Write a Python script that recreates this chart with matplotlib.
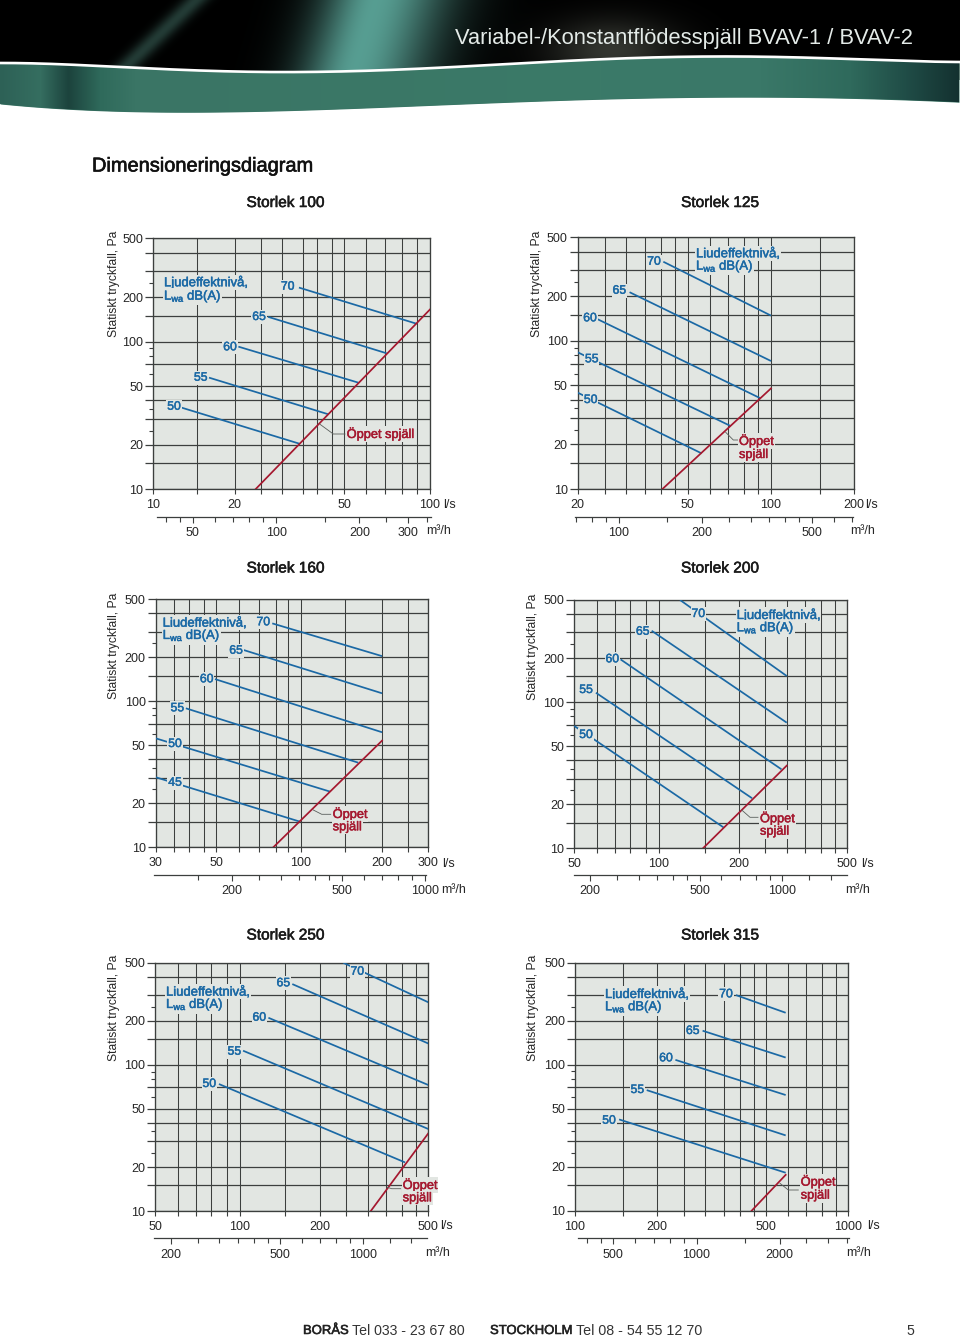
import matplotlib

matplotlib.use("Agg")
import matplotlib.patheffects as pe
import matplotlib.pyplot as plt
import numpy as np
from matplotlib.colors import to_rgb
from matplotlib.lines import Line2D
from matplotlib.ticker import NullFormatter

plt.rcParams["font.family"] = ["Liberation Sans", "DejaVu Sans"]
plt.rcParams["mathtext.fontset"] = "custom"
plt.rcParams["mathtext.rm"] = "Liberation Sans"
plt.rcParams["mathtext.default"] = "regular"

W, H = 960, 1338

BLUE = "#1b69a5"
RED = "#a5182f"
PANEL_BG = "#e2e6e2"
GRID = "#3c3f3e"
TEXT = "#262626"

# pressure axis, the same on all six diagrams
Y_LABELLED = [10, 20, 50, 100, 200, 500]
Y_GRID = [15, 30, 40, 70, 150, 300, 400]
Y_SHORT = [25, 35, 60, 80, 90, 250]

LEVELS_100 = ["70", "65", "60", "55", "50"]
X0_100 = [33.6, 26.0, 20.3, 15.9, 12.66]
Y0_100 = [232, 147, 92.4, 57, 35.7]
X1_100 = [89.5, 69.7, 55.1, 42.9, 33.9]
Y1_100 = [132, 83.3, 52.7, 32.2, 20.3]
OPEN_X_100 = [23.4, 100]
OPEN_Y_100 = [10, 165]
XT_100 = [10, 19.7, 49, 100]
XL_100 = ["10", "20", "50", "100"]
XG_100 = [14.4, 24.6, 29.3, 34.7, 39.2, 44.1, 58.5, 68.8, 79, 89.5]
XLIM_100 = [10, 100]
M3T_100 = [50, 100, 200, 300]
M3M_100 = [40, 45, 60, 70, 80, 90, 150, 250, 350]
M3LIM_100 = [37.2, 362]

LEVELS_125 = ["70", "65", "60", "55", "50"]
X0_125 = [40.8, 30.8, 23.6, 20, 20]
Y0_125 = [342, 213, 140, 83.7, 44.7]
X1_125 = [100, 100, 91.7, 71.5, 56.1]
Y1_125 = [148, 73.1, 40.9, 26.6, 17.4]
OPEN_X_125 = [40.5, 100]
OPEN_Y_125 = [10, 47.8]
XT_125 = [20, 50, 100, 200]
XL_125 = ["20", "50", "100", "200"]
XG_125 = [25, 30, 35, 40, 45, 60, 70, 80, 90, 150]
XLIM_125 = [20, 200]
M3T_125 = [100, 200, 500]
M3M_125 = [70, 80, 90, 150, 250, 300, 350, 400, 450, 600, 700]
M3LIM_125 = [69.5, 702]

LEVELS_160 = ["70", "65", "60", "55", "50", "45"]
X0_160 = [80.3, 62.9, 49.5, 38.7, 30, 30]
Y0_160 = [342, 225, 142, 89.6, 55.8, 30.2]
X1_160 = [203, 203, 203, 166, 130.6, 101.3]
Y1_160 = [204, 113.5, 61.4, 38, 24.1, 15]
OPEN_X_160 = [81, 203]
OPEN_Y_160 = [10, 53.8]
XT_160 = [30, 50, 102, 203, 300]
XL_160 = ["30", "50", "100", "200", "300"]
XG_160 = [34.9, 39.6, 45, 60.6, 72, 82.9, 91.5, 148, 252]
XLIM_160 = [30, 300]
M3T_160 = [200, 500, 1000]
M3M_160 = [150, 250, 300, 350, 400, 450, 600, 700, 800, 900]
M3LIM_160 = [104, 1008]

LEVELS_200 = ["70", "65", "60", "55", "50"]
X0_200 = [122, 96, 73.9, 60, 50]
Y0_200 = [500, 308, 196, 116, 68.7]
X1_200 = [300, 300, 287, 224, 176]
Y1_200 = [151, 72.4, 34.7, 22, 13.9]
OPEN_X_200 = [148, 300]
OPEN_Y_200 = [10, 36.8]
XT_200 = [50, 102, 200, 500]
XL_200 = ["50", "100", "200", "500"]
XG_200 = [60.7, 70.4, 80.3, 91.5, 150, 250, 300, 350, 400, 450]
XLIM_200 = [50, 500]
M3T_200 = [200, 500, 1000]
M3M_200 = [250, 300, 350, 400, 450, 600, 700, 800, 900, 1250, 1500]
M3LIM_200 = [175, 1716]

LEVELS_250 = ["70", "65", "60", "55", "50"]
X0_250 = [244, 159, 130, 105, 85.7]
Y0_250 = [500, 357, 210, 125, 73.9]
X1_250 = [500, 500, 500, 500, 411]
Y1_250 = [268, 140, 72.8, 36.4, 21.5]
OPEN_X_250 = [308, 500]
OPEN_Y_250 = [10, 34]
XT_250 = [50, 102, 200, 500]
XL_250 = ["50", "100", "200", "500"]
XG_250 = [60.7, 70.4, 80.3, 91.5, 150, 250, 300, 350, 400, 450]
XLIM_250 = [50, 500]
M3T_250 = [200, 500, 1000]
M3M_250 = [250, 300, 350, 400, 450, 600, 700, 800, 900, 1250, 1500]
M3LIM_250 = [174, 1716]

LEVELS_315 = ["70", "65", "60", "55", "50"]
X0_315 = [388, 293, 233, 183, 145]
Y0_315 = [300, 171, 108, 67, 42.2]
X1_315 = [590, 590, 590, 590, 590]
Y1_315 = [227, 112, 62, 32.8, 18.2]
OPEN_X_315 = [443, 590]
OPEN_Y_315 = [10, 17.6]
XT_315 = [100, 200, 500, 1000]
XL_315 = ["100", "200", "500", "1000"]
XG_315 = [150, 250, 300, 350, 400, 450, 600, 700, 800, 900]
XLIM_315 = [100, 1000]
M3T_315 = [500, 1000, 2000]
M3M_315 = [400, 450, 600, 700, 800, 900, 1500, 2500, 3000, 3500]
M3LIM_315 = [373, 3565]

# where things sit on the page, in image pixels
PANELS = [
    dict(title="Storlek 100", title_xy=(285.5, 203), box=(153.3, 238.3, 430, 489.3), m3=(157.3, 430.7, 516.7),
         levels=LEVELS_100, x0=X0_100, y0=Y0_100, x1=X1_100, y1=Y1_100, ox=OPEN_X_100, oy=OPEN_Y_100,
         xt=XT_100, xl=XL_100, xg=XG_100, xlim=XLIM_100, m3t=M3T_100, m3m=M3M_100, m3lim=M3LIM_100,
         ylabel_xy=(114, 284), ls_xy=(443.3, 505), mh_xy=(439, 531.5),
         label_xy=[(287.7, 286.7), (259, 317), (230, 347.3), (200.7, 377.7), (174, 406.7)],
         ljud_xy=(164, 282.3, 296.7), open_xy=[(346.7, 434, "Öppet spjäll")],
         leader=[(320, 424.3), (333.3, 434), (345, 434)]),
    dict(title="Storlek 125", title_xy=(720, 203), box=(577.7, 237.3, 854.3, 489), m3=(575, 852.7, 516.7),
         levels=LEVELS_125, x0=X0_125, y0=Y0_125, x1=X1_125, y1=Y1_125, ox=OPEN_X_125, oy=OPEN_Y_125,
         xt=XT_125, xl=XL_125, xg=XG_125, xlim=XLIM_125, m3t=M3T_125, m3m=M3M_125, m3lim=M3LIM_125,
         ylabel_xy=(537, 284), ls_xy=(865, 505), mh_xy=(863, 531.5),
         label_xy=[(654, 261.7), (619.3, 290.7), (590, 318.3), (591.7, 359.3), (590.7, 400)],
         ljud_xy=(696, 253.3, 266.7), open_xy=[(739, 441, "Öppet"), (739, 455, "spjäll")],
         leader=[(725.7, 432.3), (733.3, 440), (738, 440)]),
    dict(title="Storlek 160", title_xy=(285.5, 568.5), box=(155.7, 599.3, 428.3, 847.3), m3=(154, 426, 875),
         levels=LEVELS_160, x0=X0_160, y0=Y0_160, x1=X1_160, y1=Y1_160, ox=OPEN_X_160, oy=OPEN_Y_160,
         xt=XT_160, xl=XL_160, xg=XG_160, xlim=XLIM_160, m3t=M3T_160, m3m=M3M_160, m3lim=M3LIM_160,
         ylabel_xy=(114, 646), ls_xy=(441.7, 864), mh_xy=(454, 890),
         label_xy=[(263.3, 622.3), (236, 650.7), (206.7, 679.3), (177.3, 708.3), (175, 744), (175, 782.7)],
         ljud_xy=(162.7, 622.7, 636), open_xy=[(332.7, 814, "Öppet"), (332.7, 827.3, "spjäll")],
         leader=[(313.3, 810), (321.7, 814.3), (330.7, 814.3)]),
    dict(title="Storlek 200", title_xy=(720, 568.5), box=(574.3, 600, 847.3, 848.3), m3=(574.3, 846.7, 875),
         levels=LEVELS_200, x0=X0_200, y0=Y0_200, x1=X1_200, y1=Y1_200, ox=OPEN_X_200, oy=OPEN_Y_200,
         xt=XT_200, xl=XL_200, xg=XG_200, xlim=XLIM_200, m3t=M3T_200, m3m=M3M_200, m3lim=M3LIM_200,
         ylabel_xy=(533, 647), ls_xy=(860.7, 864), mh_xy=(858, 890),
         label_xy=[(698.3, 614), (642.7, 631.7), (612.3, 659.3), (586, 690), (586, 735)],
         ljud_xy=(736.7, 615, 628.3), open_xy=[(760, 818.3, "Öppet"), (760, 831.7, "spjäll")],
         leader=[(741.7, 810), (750, 817.3), (758, 817.3)]),
    dict(title="Storlek 250", title_xy=(285.5, 935.5), box=(155, 962.7, 428.3, 1211), m3=(154.3, 427.3, 1238.3),
         levels=LEVELS_250, x0=X0_250, y0=Y0_250, x1=X1_250, y1=Y1_250, ox=OPEN_X_250, oy=OPEN_Y_250,
         xt=XT_250, xl=XL_250, xg=XG_250, xlim=XLIM_250, m3t=M3T_250, m3m=M3M_250, m3lim=M3LIM_250,
         ylabel_xy=(114, 1008), ls_xy=(440, 1226), mh_xy=(438, 1252.7),
         label_xy=[(357.3, 971.7), (283.3, 983.3), (259.3, 1017.7), (234.3, 1051.7), (209.3, 1084)],
         ljud_xy=(166, 991.7, 1005), open_xy=[(402.7, 1185, "Öppet"), (402.7, 1198.3, "spjäll")],
         leader=[(387.3, 1187.3), (391.7, 1188.7), (400.7, 1188.7)]),
    dict(title="Storlek 315", title_xy=(720, 935.5), box=(575, 962.7, 848.3, 1210.7), m3=(578.3, 849, 1238.3),
         levels=LEVELS_315, x0=X0_315, y0=Y0_315, x1=X1_315, y1=Y1_315, ox=OPEN_X_315, oy=OPEN_Y_315,
         xt=XT_315, xl=XL_315, xg=XG_315, xlim=XLIM_315, m3t=M3T_315, m3m=M3M_315, m3lim=M3LIM_315,
         ylabel_xy=(533, 1008), ls_xy=(866.7, 1226), mh_xy=(858.3, 1253),
         label_xy=[(726, 994.3), (692.7, 1031), (666, 1058.3), (637.3, 1090), (609, 1120.7)],
         ljud_xy=(605, 994, 1007.3), open_xy=[(800.7, 1181.7, "Öppet"), (800.7, 1195.7, "spjäll")],
         leader=[(780, 1183.3), (788.3, 1190), (798.3, 1190)]),
]


def page_text(fig, x, y, s, **kw):
    return fig.text(x / W, 1 - y / H, s, **kw)


def heavier(color, width=0.35):
    return [pe.withStroke(linewidth=width, foreground=color)]


def draw_banner(fig):
    ax = fig.add_axes([0, 0, 1, 1], zorder=-1)
    ax.set_xlim(0, W)
    ax.set_ylim(H, 0)
    ax.axis("off")

    xs = np.arange(W)
    ys = np.arange(80)
    xx, yy = np.meshgrid(xs, ys)
    img = np.zeros((80, W, 3))

    # the light beams on the black part
    centre = 372 - 0.3 * (yy - 10)
    sigma = np.where(xx < centre, 38, 52)
    glow = np.exp(-((xx - centre) ** 2) / (2 * sigma**2))
    img += 0.92 * glow[..., None] * np.array([0.37, 0.67, 0.62])
    faint = np.exp(-((xx - (195 - 1.05 * yy)) ** 2) / (2 * 9.0**2))
    img += 0.55 * faint[..., None] * np.array([0.25, 0.42, 0.38])
    blob = np.exp(-((xx - 612) ** 2) / (2 * 45.0**2) - (yy - 50) ** 2 / (2 * 22.0**2))
    img += 0.45 * blob[..., None] * np.array([0.45, 0.47, 0.42])
    ax.imshow(np.clip(img, 0, 1), extent=(0, W, 80, 0), aspect="auto", interpolation="bilinear", zorder=1)

    top = np.polyval(np.polyfit([0, 100, 306, 490, 673, 850, 960], [63, 66, 72, 65, 57, 59, 62], 5), xs)
    bottom = np.polyval(np.polyfit([0, 184, 429, 673, 850, 960], [104, 112, 106, 97, 99, 102], 4), xs)
    ax.fill_between(xs, top, 81, color="white", lw=0, zorder=2)

    stops = [0, 40, 68, 100, 135, 600, 760, 850, 905, 960]
    cols = ["#2d6156", "#356e60", "#1c433d", "#2f6a5b", "#3a7565", "#3b7a68", "#3a7868", "#2f6a5c", "#204d47", "#13302f"]
    cols = np.array([to_rgb(c) for c in cols])
    band = np.stack([np.interp(xs, stops, cols[:, i]) for i in range(3)], axis=-1)[None, :, :]
    poly = ax.fill_between(xs, top, bottom, color="#3a7565", lw=0, zorder=3)
    im = ax.imshow(band, extent=(0, W, 120, 50), aspect="auto", zorder=4)
    im.set_clip_path(poly.get_paths()[0], transform=ax.transData)
    ax.plot(xs, top, color="white", lw=1.9, zorder=5)
    ax.set_xlim(0, W)
    ax.set_ylim(H, 0)


def draw_panel(fig, p):
    left, top, right, bottom = p["box"]
    ax = fig.add_axes([left / W, 1 - bottom / H, (right - left) / W, (bottom - top) / H], facecolor=PANEL_BG)
    ax.set_xscale("log")
    ax.set_yscale("log")
    ax.set_xlim(*p["xlim"])
    ax.set_ylim(10, 500)

    ax.set_yticks(sorted(Y_LABELLED + Y_GRID), [str(v) if v in Y_LABELLED else "" for v in sorted(Y_LABELLED + Y_GRID)])
    ax.set_yticks(Y_SHORT, minor=True)
    ax.yaxis.set_minor_formatter(NullFormatter())
    ax.set_xticks(p["xt"], p["xl"])
    ax.set_xticks(p["xg"], minor=True)
    ax.xaxis.set_minor_formatter(NullFormatter())

    ax.grid(axis="y", which="major", color=GRID, lw=0.9)
    ax.grid(axis="x", which="both", color=GRID, lw=0.75)
    ax.set_axisbelow(True)
    ax.tick_params(axis="y", which="major", length=6, width=0.9, color=GRID, labelsize=9, labelcolor=TEXT, pad=1.2)
    ax.tick_params(axis="y", which="minor", length=3, width=0.8, color=GRID)
    ax.tick_params(axis="x", which="both", length=3.5, width=0.8, color=GRID, labelsize=9, labelcolor=TEXT, pad=3.8)
    for spine in ax.spines.values():
        spine.set_color(GRID)
        spine.set_linewidth(0.95)

    for x0, y0, x1, y1 in zip(p["x0"], p["y0"], p["x1"], p["y1"]):
        ax.plot([x0, x1], [y0, y1], color=BLUE, lw=1.25, solid_capstyle="butt", zorder=3)
    ax.plot(p["ox"], p["oy"], color=RED, lw=1.25, zorder=4)

    # m3/h scale under the l/s axis
    m_left, m_right, m_y = p["m3"]
    ax2 = fig.add_axes([m_left / W, 1 - m_y / H, (m_right - m_left) / W, 0.0001], facecolor="none")
    ax2.set_xscale("log")
    ax2.set_xlim(*p["m3lim"])
    ax2.set_yticks([])
    ax2.set_xticks(p["m3t"], [str(v) for v in p["m3t"]])
    ax2.set_xticks(p["m3m"], minor=True)
    ax2.xaxis.set_minor_formatter(NullFormatter())
    ax2.tick_params(axis="x", which="major", length=4, width=0.8, color=GRID, labelsize=9, labelcolor=TEXT, pad=3.4)
    ax2.tick_params(axis="x", which="minor", length=3.5, width=0.8, color=GRID)
    for name in ["top", "left", "right"]:
        ax2.spines[name].set_visible(False)
    ax2.spines["bottom"].set_color(GRID)
    ax2.spines["bottom"].set_linewidth(0.9)

    page_text(fig, *p["title_xy"], p["title"], fontsize=11.1, ha="center", va="center", color="#1a1a1a", path_effects=heavier("#1a1a1a", 0.4))
    page_text(fig, *p["ylabel_xy"], "Statiskt tryckfall, Pa", fontsize=8.7, rotation=90, ha="center", va="center", color=TEXT)
    page_text(fig, *p["ls_xy"], "l/s", fontsize=9, ha="left", va="center", color=TEXT)
    page_text(fig, *p["mh_xy"], "m³/h", fontsize=9, ha="center", va="center", color=TEXT)

    knock = dict(facecolor=PANEL_BG, edgecolor="none", pad=0.6)
    stroke = heavier(BLUE)
    for s, (x, y) in zip(p["levels"], p["label_xy"]):
        page_text(fig, x, y, s, fontsize=8.8, ha="center", va="center", color=BLUE, bbox=knock, path_effects=stroke)

    lx, ly1, ly2 = p["ljud_xy"]
    page_text(fig, lx, ly1, "Ljudeffektnivå,", fontsize=9.4, ha="left", va="center", color=BLUE, bbox=knock, path_effects=stroke)
    page_text(fig, lx, ly2, "L$_{wa}$ dB(A)", fontsize=9.4, ha="left", va="center", color=BLUE, bbox=knock, path_effects=stroke)

    px = [a / W for a, _ in p["leader"]]
    py = [1 - b / H for _, b in p["leader"]]
    fig.add_artist(Line2D(px, py, color="#5a5f5c", lw=0.6, transform=fig.transFigure, zorder=2))
    for x, y, s in p["open_xy"]:
        page_text(fig, x, y, s, fontsize=9.2, ha="left", va="center", color=RED, bbox=knock, path_effects=heavier(RED))


def main():
    fig = plt.figure(figsize=(W / 100, H / 100), dpi=100, facecolor="white")
    draw_banner(fig)

    page_text(fig, 455, 38.5, "Variabel-/Konstantflödesspjäll BVAV-1 / BVAV-2", fontsize=15.75, ha="left", va="center", color="#e4ebe8")
    page_text(fig, 92, 166, "Dimensioneringsdiagram", fontsize=14.4, ha="left", va="center", color="#111111", path_effects=heavier("#111111", 0.45))

    for p in PANELS:
        draw_panel(fig, p)

    page_text(fig, 303, 1331, "BORÅS", fontsize=9.4, ha="left", va="center", color="#222222", path_effects=heavier("#222222", 0.4))
    page_text(fig, 352, 1331, "Tel 033 - 23 67 80", fontsize=10.2, ha="left", va="center", color="#333333")
    page_text(fig, 490, 1331, "STOCKHOLM", fontsize=9.4, ha="left", va="center", color="#222222", path_effects=heavier("#222222", 0.4))
    page_text(fig, 576, 1331, "Tel 08 - 54 55 12 70", fontsize=10.3, ha="left", va="center", color="#333333")
    page_text(fig, 906, 1331, "5", fontsize=10.2, ha="left", va="center", color="#333333")

    fig.savefig("out.png", dpi=100)
    plt.close(fig)


if __name__ == "__main__":
    main()
